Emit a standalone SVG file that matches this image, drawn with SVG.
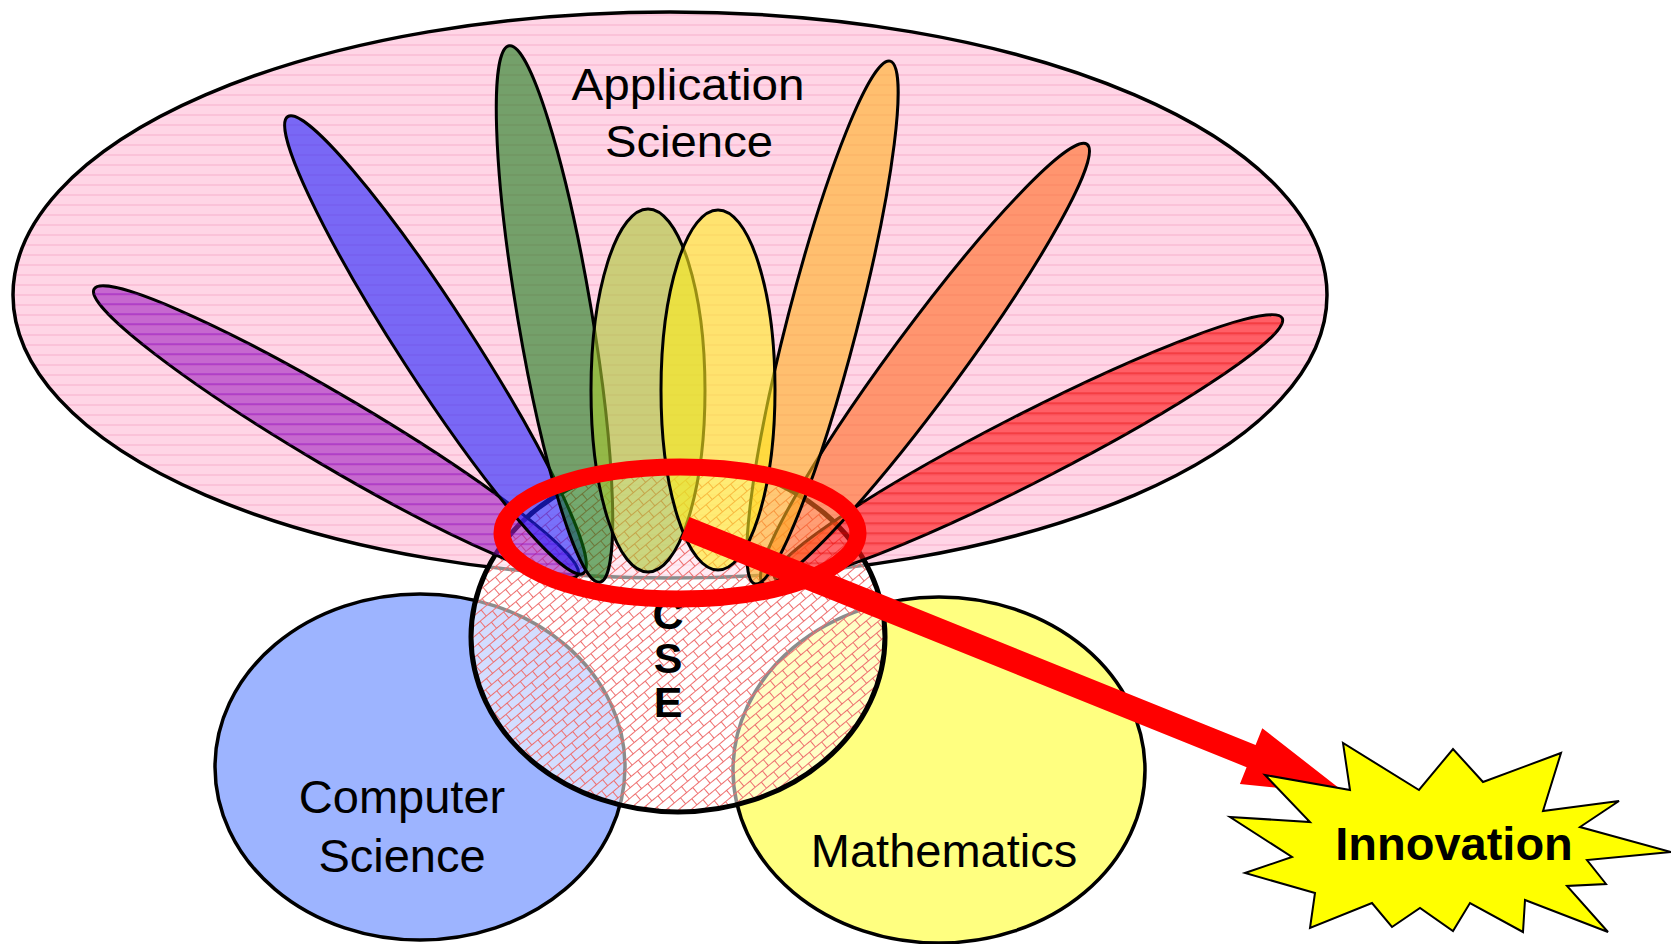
<svg xmlns="http://www.w3.org/2000/svg" width="1671" height="944" viewBox="0 0 1671 944">
<defs>
<pattern id="pinkp" width="10" height="10" patternUnits="userSpaceOnUse"><rect width="10" height="10" fill="#ffd5e6"/><path d="M0 5H10" stroke="#f7b0cd" stroke-width="1"/></pattern>
<pattern id="brick" width="16" height="16" patternUnits="userSpaceOnUse" patternTransform="rotate(-40)"><path d="M0 0.5H16M0 8.5H16M0.5 0V8.5M8.5 8.5V16" stroke="#ee6e6e" stroke-width="1" fill="none"/></pattern>
<pattern id="purpl" width="10" height="10" patternUnits="userSpaceOnUse" patternTransform="rotate(-30.6)"><path d="M0 5H10" stroke="#8a00c0" stroke-width="1" stroke-opacity="0.7"/></pattern>
<pattern id="redl" width="10" height="10" patternUnits="userSpaceOnUse" patternTransform="rotate(-152.9)"><path d="M0 5H10" stroke="#e00000" stroke-width="1" stroke-opacity="0.7"/></pattern>
<style>
.lbl{font-family:"Liberation Sans",Arial,sans-serif;fill:#000;text-anchor:middle}
.petal{stroke:#000;stroke-width:3}
</style>
</defs>
<rect width="1671" height="944" fill="#fff"/>

<g id="application-science">
<ellipse cx="670" cy="295" rx="657" ry="283" fill="url(#pinkp)" stroke="#000" stroke-width="3.5"/>
<text class="lbl" x="688" y="100" font-size="45" textLength="233" lengthAdjust="spacingAndGlyphs">Application</text>
<text class="lbl" x="689" y="157" font-size="45" textLength="168" lengthAdjust="spacingAndGlyphs">Science</text>
</g>

<g id="computer-science">
<ellipse cx="420" cy="767" rx="205" ry="173" fill="#9db4ff" stroke="#000" stroke-width="3.5"/>
<text class="lbl" x="402" y="813" font-size="47">Computer</text>
<text class="lbl" x="402" y="872" font-size="47">Science</text>
</g>

<g id="mathematics">
<ellipse cx="939" cy="770" rx="206" ry="173" fill="#ffff80" stroke="#000" stroke-width="3.5"/>
<text class="lbl" x="944" y="867" font-size="47">Mathematics</text>
</g>

<g id="cse">
<ellipse cx="678" cy="637" rx="207" ry="175" fill="#fff" fill-opacity="0.55"/>
<ellipse cx="678" cy="637" rx="207" ry="175" fill="url(#brick)" stroke="#000" stroke-width="5"/>
<text class="lbl" x="668" y="629" font-size="43" font-weight="bold">C</text>
<text class="lbl" x="668" y="673" font-size="43" font-weight="bold">S</text>
<text class="lbl" x="668" y="717" font-size="43" font-weight="bold">E</text>
</g>

<g id="petals">
<g id="petal-purple"><ellipse class="petal" cx="336" cy="432" rx="281" ry="35" transform="rotate(30.6 336 432)" fill="#a020c0" fill-opacity="0.6"/><ellipse cx="336" cy="432" rx="281" ry="35" transform="rotate(30.6 336 432)" fill="url(#purpl)"/></g>
<g id="petal-blue"><ellipse class="petal" cx="435.5" cy="345" rx="272" ry="36" transform="rotate(57.1 435.5 345)" fill="#2020ff" fill-opacity="0.6"/></g>
<g id="petal-green"><ellipse class="petal" cx="554.5" cy="314" rx="272" ry="37" transform="rotate(80.4 554.5 314)" fill="#107a10" fill-opacity="0.58"/></g>
<g id="petal-red"><ellipse class="petal" cx="1028.5" cy="448" rx="285" ry="34" transform="rotate(152.9 1028.5 448)" fill="#ff1010" fill-opacity="0.6"/><ellipse cx="1028.5" cy="448" rx="285" ry="34" transform="rotate(152.9 1028.5 448)" fill="url(#redl)"/></g>
<g id="petal-coral"><ellipse class="petal" cx="925" cy="364" rx="273" ry="35" transform="rotate(126.4 925 364)" fill="#ff6a20" fill-opacity="0.6"/></g>
<g id="petal-orange"><ellipse class="petal" cx="822.5" cy="322.5" rx="270" ry="35" transform="rotate(104.5 822.5 322.5)" fill="#ffb020" fill-opacity="0.6"/></g>
<g id="petal-olive"><ellipse class="petal" cx="648" cy="390.5" rx="57" ry="181.5" fill="#a8c830" fill-opacity="0.6"/></g>
<g id="petal-yellow"><ellipse class="petal" cx="718" cy="390" rx="57" ry="180" fill="#ffec20" fill-opacity="0.6"/></g>
</g>

<g id="cse-ring">
<ellipse cx="680" cy="533" rx="178" ry="66" fill="none" stroke="#ff0000" stroke-width="17"/>
</g>

<g id="connectors">
<polygon points="689.5,516.9 1255.6,745 1262.3,728.3 1348.5,795.4 1239.9,783.9 1246.6,767.2 680.5,539.1" fill="#ff0000"/>
</g>

<g id="innovation">
<polygon points="1265,775 1350,790 1343,743 1419,790 1453,749 1483,782 1561,753 1543,811 1619,801 1580,827 1671,852 1587,860 1606,884 1567,886 1608,932 1525,900 1523,932 1470,903 1453,931 1420,908 1392,927 1372,903 1310,928 1315,893 1245,873 1292,857 1230,817 1310,822" fill="#ffff00" stroke="#000" stroke-width="2" stroke-linejoin="miter"/>
<text class="lbl" x="1454" y="860" font-size="47" font-weight="bold">Innovation</text>
</g>
</svg>
